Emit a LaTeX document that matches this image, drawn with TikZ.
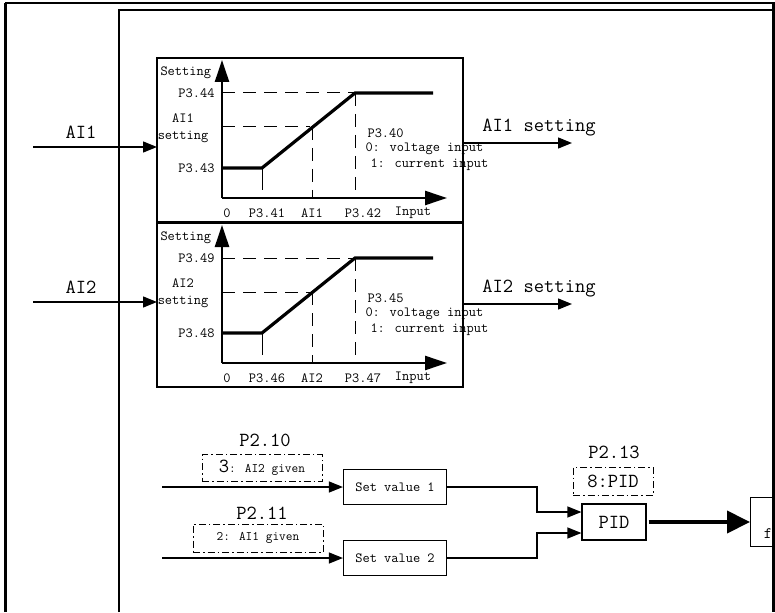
\documentclass[tikz,border=0pt]{standalone}
\usepackage{fontspec}
\usetikzlibrary{arrows.meta, positioning, calc}

\tikzset{
  small/.style={font=\ttfamily\fontsize{14}{17}\selectfont},
  big/.style={font=\ttfamily\fontsize{20}{22}\selectfont},
  axis/.style={line width=2.5pt, -{Triangle[length=22pt, width=14pt]}},
  curve/.style={line width=3.2pt},
  guide/.style={line width=1pt, dash pattern=on 13pt off 8pt},
  sig/.style={line width=1.3pt, -{Triangle[length=14pt, width=11pt]}},
  valbox/.style={draw, line width=1.2pt, minimum width=103pt, minimum height=35pt, inner sep=0pt, small},
  parbox/.style={draw, line width=1pt, dash pattern=on 7pt off 3pt on 1.5pt off 3pt, inner sep=0pt}
}

\begin{document}
\begin{tikzpicture}[x=1pt, y=-1pt]
  \useasboundingbox (0,0) rectangle (775,612);
  \clip (0,0) rectangle (775,612);

  % Frames
  \draw[line width=3pt] (5,612) -- (5,3);
  \draw[line width=1.5pt] (5,3) -- (775,3);
  \draw[line width=3pt] (773.5,3) -- (773.5,612);
  \draw[line width=1.3pt] (119,612) -- (119,10) -- (775,10);

  % Analog input curves: AI1 (top), AI2 (bottom)
  \foreach \idx/\dy/\ya/\yo/\hi/\lo/\xa/\xb/\sel in {1/0/147/143/44/43/41/42/40, 2/165/302/304/49/48/46/47/45}{
    \draw[line width=1.4pt] (157,58+\dy) rectangle (463,222+\dy);
    \draw[axis] (222,198+\dy) -- (222,60+\dy);
    \draw[axis] (222,198+\dy) -- (447,198+\dy);

    % Guide lines
    \draw[guide] (222,93+\dy) -- (355,93+\dy);
    \draw[guide] (222,127+\dy) -- (310,127+\dy);
    \draw[guide] (312,127+\dy) -- (312,198+\dy);
    \draw[guide] (355,93+\dy) -- (355,198+\dy);
    \draw[line width=1pt] (262,168+\dy) -- (262,190+\dy);

    % Characteristic
    \draw[curve] (222,168+\dy) -- (262,168+\dy) -- (355,93+\dy) -- (433,93+\dy);

    % Labels
    \node[small, anchor=west] (setting\idx) at (157,73+\dy) {Setting};
    \node[small, anchor=east] (hi\idx) at (218,93+\dy) {P3.\hi};
    \node[small, align=center] (ai\idx) at (183,128+\dy) {AI\idx\\setting};
    \node[small, anchor=east] (lo\idx) at (218,168+\dy) {P3.\lo};
    \node[small] (zero\idx) at (227,213+\dy) {0};
    \node[small] (xa\idx) at (267,213+\dy) {P3.\xa};
    \node[small] (xi\idx) at (312,213+\dy) {AI\idx};
    \node[small] (xb\idx) at (363,213+\dy) {P3.\xb};
    \node[small] (inp\idx) at (413,213+\dy) {Input};
    \node[small, anchor=west] (sel\idx) at (364,133+\dy) {P3.\sel};
    \node[small, anchor=west] (volt\idx) at (362,149+\dy) {0: voltage input};
    \node[small, anchor=west] (curr\idx) at (367,165+\dy) {1: current input};

    % Input and output signals
    \coordinate (src\idx) at (33,\ya);
    \coordinate (dst\idx) at (157,\ya);
    \draw[sig] (src\idx) -- (dst\idx);
    \node[big] (in\idx) at (81,\ya-15) {AI\idx};
    \coordinate (out\idx) at (463,\yo);
    \coordinate (end\idx) at (572,\yo);
    \draw[sig] (out\idx) -- (end\idx);
    \node[big] (res\idx) at (539,\yo-15) {AI\idx\ setting};
  }

  % Set values
  \node[valbox] (set1) at (395,487) {Set value 1};
  \node[valbox] (set2) at (395,558) {Set value 2};
  \coordinate (in10) at (162,487);
  \coordinate (in11) at (162,558);
  \draw[sig] (in10) -- (set1);
  \draw[sig] (in11) -- (set2);

  \node[big] (p210) at (265,440) {P2.10};
  \node[parbox, minimum width=120pt, minimum height=27pt, font=\ttfamily\fontsize{13}{14}\selectfont] (par10) at (262,468) {{\fontsize{20}{20}\selectfont 3}: AI2 given};
  \node[big] (p211) at (262,513) {P2.11};
  \node[parbox, minimum width=130pt, minimum height=28pt, font=\ttfamily\fontsize{13}{14}\selectfont] (par11) at (258,538) {2: AI1 given};

  % PID
  \node[draw, line width=1.2pt, minimum width=64pt, minimum height=36pt, inner sep=0pt, big] (pid) at (614,522) {PID};
  \node[big] (p213) at (614,452) {P2.13};
  \node[parbox, minimum width=80pt, minimum height=28pt, big] (par13) at (613,481) {8:PID};
  \draw[sig] (set1.east) -- ++(90,0) |- ([yshift=10pt]pid.west);
  \draw[sig] (set2.east) -- ++(90,0) |- ([yshift=-11pt]pid.west);

  % Output
  \node[draw, line width=1.2pt, minimum width=50pt, minimum height=49pt, anchor=west] (freq) at (750,522) {};
  \node[font=\ttfamily\fontsize{16}{16}\selectfont] (fsym) at (768,534) {f};
  \draw[line width=4pt, shorten <=2pt, -{Triangle[length=23pt, width=22pt]}] (pid.east) -- (freq.west);
\end{tikzpicture}
\end{document}
